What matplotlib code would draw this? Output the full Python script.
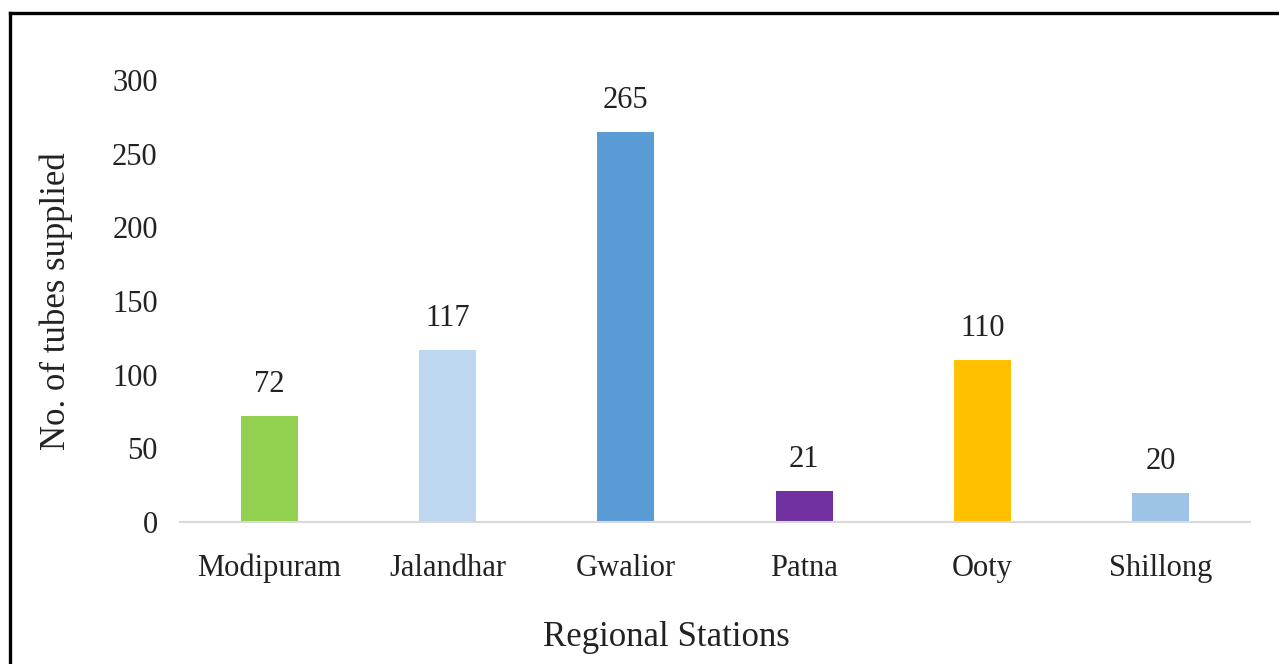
import matplotlib
matplotlib.use("Agg")
import matplotlib.pyplot as plt
from matplotlib.lines import Line2D

stations = ["Modipuram", "Jalandhar", "Gwalior", "Patna", "Ooty", "Shillong"]
tubes = [72, 117, 265, 21, 110, 20]
bar_colors = ["#92D050", "#BDD7EE", "#5B9BD5", "#7030A0", "#FFC000", "#9DC3E6"]

plt.rcParams["font.family"] = ["Liberation Serif", "DejaVu Serif"]

fig = plt.figure(figsize=(12.79, 6.64), dpi=100)
ax = fig.add_axes([0.1407, 0.2139, 0.8366, 0.6656])

x = range(len(stations))
bars = ax.bar(x, tubes, width=0.32, color=bar_colors, zorder=2)
for b, v in zip(bars, tubes):
    ax.annotate(str(v), (b.get_x() + b.get_width() / 2, v),
                xytext=(0, 12), textcoords="offset points",
                ha="center", va="bottom", fontsize=22, color="#222222")

ax.set_xlim(-0.5, 5.5)
ax.set_ylim(0, 300)
ax.set_yticks(range(0, 301, 50))
ax.set_xticks(list(x))
ax.set_xticklabels(stations)
ax.tick_params(axis="both", length=0, labelsize=22, colors="#222222")
ax.tick_params(axis="x", pad=23)
ax.tick_params(axis="y", pad=16)

for side in ("top", "right", "left"):
    ax.spines[side].set_visible(False)
ax.spines["bottom"].set_color("#D9D9D9")
ax.spines["bottom"].set_linewidth(1.5)

ax.set_ylabel("No. of tubes supplied", fontsize=25, color="#222222", labelpad=28)
fig.text(0.521, 0.04, "Regional Stations", ha="center", va="center",
         fontsize=25, color="#222222")

# frame lines along the top and left edge
fig.add_artist(Line2D([0.0082, 1.0], [0.981, 0.981], color="black", lw=2.4,
                      transform=fig.transFigure))
fig.add_artist(Line2D([0.0082, 0.0082], [0.0, 0.981], color="black", lw=2.4,
                      transform=fig.transFigure))

fig.savefig("out.png", dpi=100)
